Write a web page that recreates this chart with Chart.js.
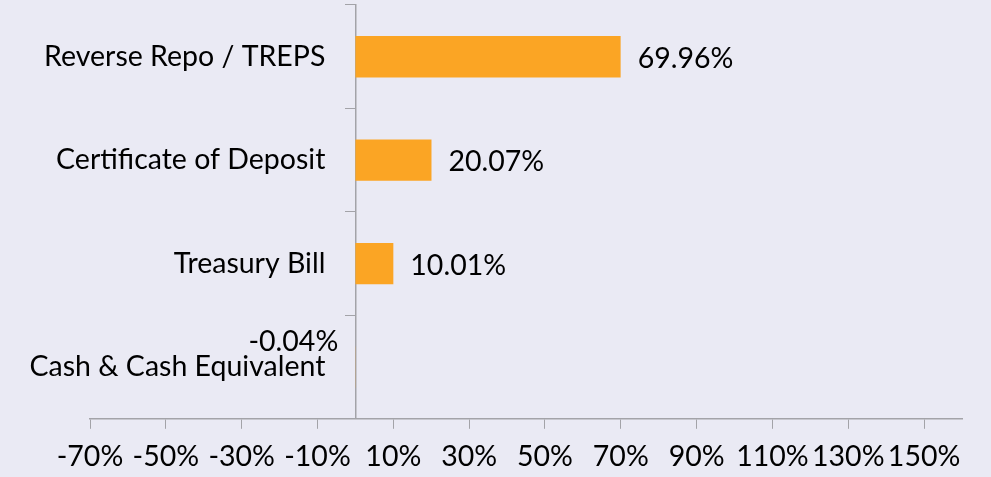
<!DOCTYPE html>
<html>
<head>
<meta charset="utf-8">
<script src="https://cdn.jsdelivr.net/npm/chart.js@4.4.0/dist/chart.umd.min.js"></script>
<style>
  html, body { margin: 0; padding: 0; background: #eaeaf4; }
  #wrap { width: 991px; height: 477px; }
</style>
</head>
<body>
<div id="wrap"><canvas id="chart-1"></canvas></div>
<script>
var categories = ["Reverse Repo / TREPS", "Certificate of Deposit", "Treasury Bill", "Cash & Cash Equivalent"];
var allocation = [69.96, 20.07, 10.01, -0.04];
var tick_values = [-70, -50, -30, -10, 10, 30, 50, 70, 90, 110, 130, 150];

var font_family = "Lato, 'Open Sans', sans-serif";
var font_size = 28.5;
var axis_grey = "#a3a3a8";

// data labels next to each bar end
var barLabels = {
    id: "barLabels",
    afterDatasetsDraw: function(chart) {
        var ctx = chart.ctx;
        var meta = chart.getDatasetMeta(0);
        ctx.save();
        ctx.font = font_size + "px " + font_family;
        ctx.fillStyle = "#000";
        ctx.textBaseline = "middle";
        meta.data.forEach(function(bar, i) {
            var v = allocation[i];
            var txt = v.toFixed(2) + "%";
            if (v < 0) {
                ctx.textAlign = "right";
                ctx.fillText(txt, bar.x - 17, bar.y - 25);
            } else {
                ctx.textAlign = "left";
                ctx.fillText(txt, bar.x + 17, bar.y + 2);
            }
        });
        ctx.restore();
    }
};

// the y axis sits on the zero line, so push its labels off the line a bit
var yLabelGap = {
    id: "yLabelGap",
    beforeDraw: function(chart) {
        var items = chart.scales.y.getLabelItems();
        items.forEach(function(item) {
            if (!item._shifted) {
                item.options.translation[0] -= 30;
                item._shifted = true;
            }
        });
    }
};

const ctx = document.getElementById("chart-1").getContext("2d");
const myChart = new Chart(ctx, {
    type: "bar",
    data: {
        labels: categories,
        datasets: [{
            data: allocation,
            backgroundColor: "#fba524",
            borderWidth: 0,
            barPercentage: 0.4,
            categoryPercentage: 1,
        }],
    },
    plugins: [barLabels, yLabelGap],
    options: {
        indexAxis: "y",
        responsive: true,
        maintainAspectRatio: false,
        animation: false,
        layout: { padding: { left: 90, right: 29, top: 5, bottom: 0 } },
        plugins: {
            legend: { display: false },
            tooltip: { enabled: false },
        },
        scales: {
            x: {
                min: -70,
                max: 160,
                afterBuildTicks: function(axis) {
                    axis.ticks = tick_values.map(function(v) { return { value: v }; });
                },
                afterFit: function(scale) {
                    scale.height = scale.height - 8;
                },
                grid: { drawOnChartArea: false, drawTicks: true, tickLength: 10, color: axis_grey },
                border: { display: true, color: axis_grey, width: 1.5 },
                ticks: {
                    color: "#000",
                    font: { family: font_family, size: font_size },
                    padding: 11,
                    maxRotation: 0,
                    autoSkip: false,
                    callback: function(v) { return v + "%"; },
                },
            },
            y: {
                position: { x: 0 },
                afterFit: function(scale) {
                    scale.paddingTop = 0;
                    scale.paddingBottom = 0;
                },
                grid: { drawOnChartArea: false, drawTicks: true, tickLength: 10, offset: true, color: axis_grey },
                border: { display: true, color: axis_grey, width: 1.5 },
                ticks: {
                    color: "#000",
                    font: { family: font_family, size: font_size },
                    padding: 0,
                },
            },
        },
    },
});
</script>
</body>
</html>
